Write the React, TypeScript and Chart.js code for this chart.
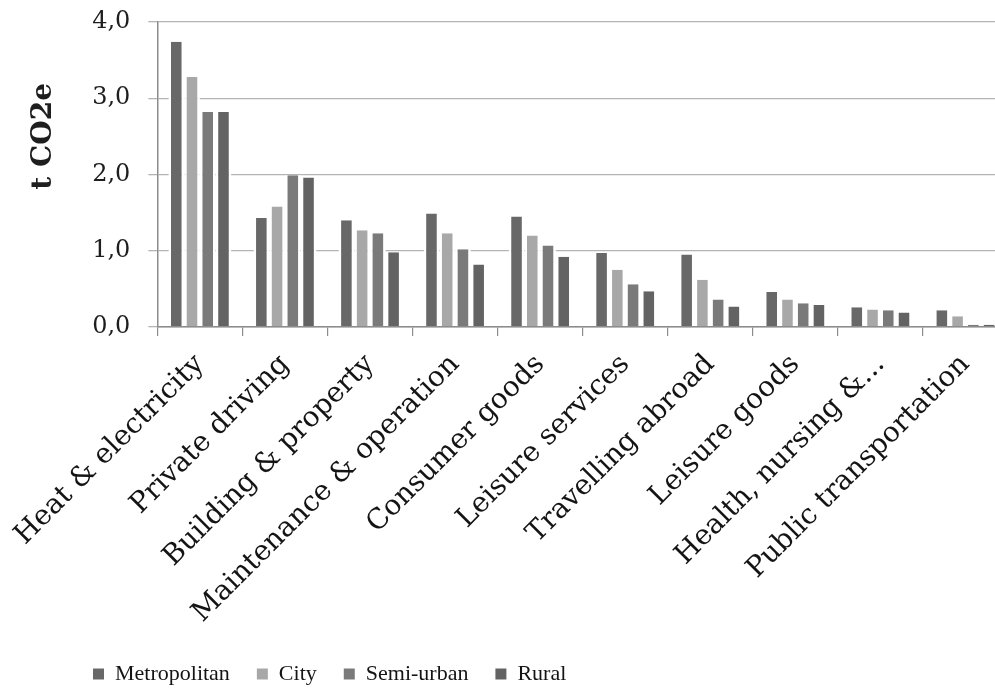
import { useEffect, useRef } from "react";
import { Chart, registerables } from "chart.js";

Chart.register(...registerables);

const categories = [
  "Heat & electricity",
  "Private driving",
  "Building & property",
  "Maintenance & operation",
  "Consumer goods",
  "Leisure services",
  "Travelling abroad",
  "Leisure goods",
  "Health, nursing &...",
  "Public transportation",
];

const seriesNames = ["Metropolitan", "City", "Semi-urban", "Rural"];

const metropolitan = [3.74, 1.43, 1.4, 1.49, 1.45, 0.97, 0.95, 0.46, 0.26, 0.22];
const city = [3.28, 1.58, 1.27, 1.23, 1.2, 0.75, 0.62, 0.36, 0.23, 0.14];
const semiUrban = [2.82, 1.99, 1.23, 1.02, 1.07, 0.56, 0.36, 0.31, 0.22, 0.03];
const rural = [2.82, 1.96, 0.98, 0.82, 0.92, 0.47, 0.27, 0.29, 0.19, 0.03];

const yTickValues = [0, 1, 2, 3, 4];
const yAxisTitle = "t CO2e";

const seriesColors = ["#686868", "#a8a8a8", "#7a7a7a", "#636363"];

const SERIF = '"DejaVu Serif", serif';
const LEGEND_FONT = '"Liberation Serif", serif';

const yTitlePlugin = {
  id: "yTitle",
  afterDraw(chart: any) {
    const { ctx } = chart;
    const y = chart.scales.y;
    const cy = y.getPixelForValue(2.5);
    ctx.save();
    ctx.translate(44, cy);
    ctx.rotate(-Math.PI / 2);
    ctx.font = `bold 28px ${SERIF}`;
    ctx.fillStyle = "#1e1e1e";
    ctx.textAlign = "center";
    ctx.textBaseline = "middle";
    ctx.fillText(yAxisTitle, 0, 0);
    ctx.restore();
  },
};

const legendShiftPlugin = {
  id: "legendShift",
  afterLayout(chart: any) {
    if (chart.legend) {
      chart.legend.left += 66;
    }
  },
};

export default function App() {
  const canvasRef = useRef<HTMLCanvasElement | null>(null);

  useEffect(() => {
    if (!canvasRef.current) return;
    const values = [metropolitan, city, semiUrban, rural];
    const chart = new Chart(canvasRef.current, {
      type: "bar",
      data: {
        labels: categories,
        datasets: seriesNames.map((name, i) => ({
          label: name,
          data: values[i],
          backgroundColor: seriesColors[i],
          borderColor: "#ffffff",
          borderWidth: { left: 2.6, right: 2.6, top: 0, bottom: 0 },
          borderSkipped: false,
          barPercentage: 1.0,
          categoryPercentage: 0.74,
        })),
      },
      options: {
        animation: false,
        responsive: false,
        devicePixelRatio: 1,
        layout: { padding: { top: 22, right: 2, bottom: 5, left: 0 } },
        scales: {
          x: {
            afterFit: (s: any) => {
              s.height = 309;
            },
            grid: {
              display: true,
              drawOnChartArea: false,
              drawTicks: true,
              tickLength: 9,
              color: "#8c8c8c",
              lineWidth: 1.2,
              offset: true,
              z: 1,
            },
            border: { display: true, color: "#8c8c8c", width: 1.5, z: 1 },
            ticks: {
              minRotation: 45,
              maxRotation: 45,
              autoSkip: false,
              padding: 12,
              color: "#141414",
              font: { family: SERIF, size: 28 },
            },
          },
          y: {
            min: 0,
            max: 4,
            afterFit: (s: any) => {
              s.width = 155;
              s.paddingTop = 0;
              s.paddingBottom = 0;
            },
            afterBuildTicks: (s: any) => {
              s.ticks = yTickValues.map((v) => ({ value: v }));
            },
            grid: {
              color: "#b4b4b4",
              lineWidth: 1.3,
              tickLength: 9,
              drawTicks: true,
            },
            border: { display: true, color: "#8c8c8c", width: 1.5 },
            ticks: {
              padding: 18,
              color: "#1e1e1e",
              font: { family: SERIF, size: 24 },
              callback: (v: any) => Number(v).toFixed(1).replace(".", ","),
            },
          },
        },
        plugins: {
          tooltip: { enabled: false },
          legend: {
            position: "bottom",
            align: "start",
            labels: {
              boxWidth: 11,
              boxHeight: 11,
              padding: 27,
              color: "#141414",
              font: { family: LEGEND_FONT, size: 22 },
              generateLabels(c: any) {
                const items = (Chart.defaults.plugins.legend.labels as any).generateLabels(c);
                return items.map((it: any) => ({ ...it, lineWidth: 0, strokeStyle: "rgba(0,0,0,0)" }));
              },
            },
          },
        },
      },
      plugins: [yTitlePlugin, legendShiftPlugin],
    } as any);
    return () => chart.destroy();
  }, []);

  return (
    <div
      style={{
        position: "fixed",
        left: 0,
        top: 0,
        width: 995,
        height: 700,
        overflow: "hidden",
        background: "#ffffff",
      }}
    >
      <canvas ref={canvasRef} width={1010} height={700} style={{ display: "block" }} />
    </div>
  );
}
